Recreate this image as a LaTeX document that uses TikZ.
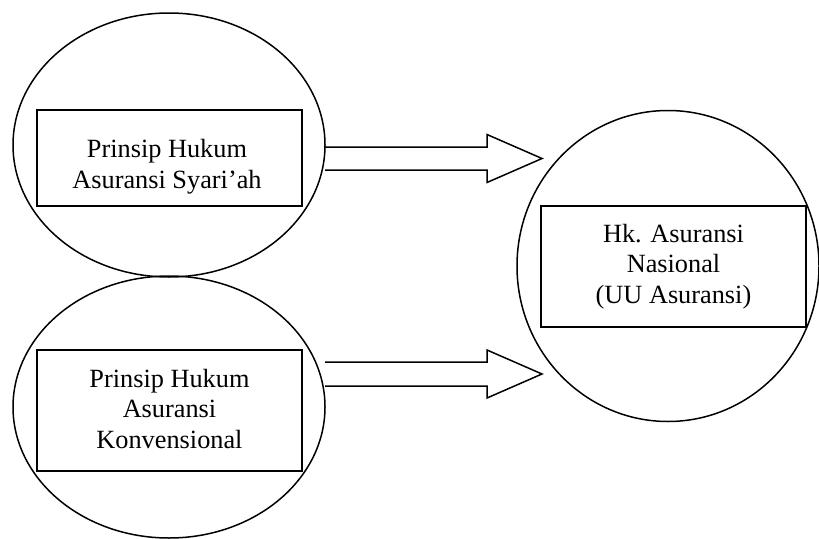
\documentclass[tikz,border=0pt]{standalone}
\usepackage{fontspec}
\setmainfont{Liberation Serif}
\usetikzlibrary{shapes.geometric,calc}

\tikzset{
  oval/.style={ellipse, draw, line width=1.5pt, inner sep=0pt},
  box/.style={rectangle, draw, line width=1.8pt, inner sep=0pt},
  boxtext/.style={align=center, inner sep=0pt, font=\fontsize{26.3pt}{30.5pt}\selectfont},
  blockarrow/.style={draw, line width=1.5pt, line join=miter},
}

\begin{document}
\begin{tikzpicture}[x=1pt, y=-1pt]
  \useasboundingbox (0,0) rectangle (819,538);

  % the two source ellipses and the target circle
  \node[oval, minimum width=312pt, minimum height=264pt] (syariah) at (169,145) {};
  \node[oval, minimum width=312pt, minimum height=262pt] (konv) at (169,407) {};
  \node[oval, minimum width=302pt, minimum height=311pt] (nasional) at (668,266) {};

  % rectangles inside each oval
  \node[box, minimum width=265pt, minimum height=96pt] (rsyariah) at (169.5,158) {};
  \node[box, minimum width=265pt, minimum height=121pt] (rkonv) at (169.5,410.5) {};
  \node[box, minimum width=265pt, minimum height=121pt] (rnasional) at (673.5,266.5) {};

  % labels
  \node[boxtext] (tsyariah) at (167,166.5) {Prinsip Hukum\\Asuransi Syari’ah};
  \node[boxtext] (tkonv) at (169.5,408.5) {Prinsip Hukum\\Asuransi\\Konvensional};
  \node[boxtext] (tnasional) at (673.5,266.5) {Hk. Asuransi\\Nasional\\(UU Asuransi)};

  % block arrow ends
  \coordinate (s1) at (325,158.5);
  \coordinate (e1) at (542,158.5);
  \coordinate (s2) at (325,374);
  \coordinate (e2) at (542,374);

  % hollow block arrows from each oval towards the circle
  \draw[blockarrow]
    ($(s1)+(0,-11.5)$) -- ($(e1)+(-55,-11.5)$) -- ($(e1)+(-55,-24)$) -- (e1)
    -- ($(e1)+(-55,24)$) -- ($(e1)+(-55,11.5)$) -- ($(s1)+(0,11.5)$);
  \draw[blockarrow]
    ($(s2)+(0,-12)$) -- ($(e2)+(-55,-12)$) -- ($(e2)+(-55,-24)$) -- (e2)
    -- ($(e2)+(-55,24)$) -- ($(e2)+(-55,12)$) -- ($(s2)+(0,12)$);
\end{tikzpicture}
\end{document}
